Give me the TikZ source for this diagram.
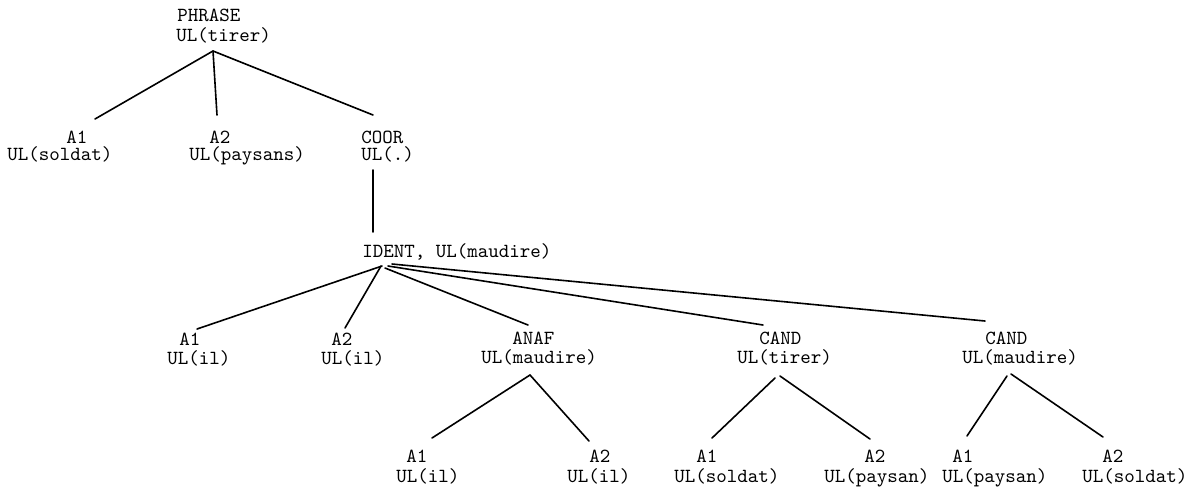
\documentclass[tikz,border=0pt]{standalone}
\begin{document}
\begin{tikzpicture}[x=0.5pt,y=-0.5pt,
  lbl/.style={anchor=base west,inner sep=0pt,text depth=1.2pt,font=\ttfamily\fontsize{10}{11}\selectfont},
  edge/.style={line width=0.8pt,line cap=round}]
\useasboundingbox (0,0) rectangle (1192,489);
% level 0
\node[lbl] (phrase) at (177,21) {PHRASE};
\node[lbl] (phrase-ul) at (176,41) {UL(tirer)};
% level 1
\node[lbl] (a1) at (66,143) {A1};
\node[lbl] (a1-ul) at (7,160) {UL(soldat)};
\node[lbl] (a2) at (209,143) {A2};
\node[lbl] (a2-ul) at (189,160) {UL(paysans)};
\node[lbl] (coor) at (361,143) {COOR};
\node[lbl] (coor-ul) at (361,160) {UL(.)};
% level 2
\node[lbl] (ident) at (362,257) {IDENT, UL(maudire)};
% level 3
\node[lbl] (b1) at (179,345) {A1};
\node[lbl] (b1-ul) at (167,364) {UL(il)};
\node[lbl] (b2) at (331,345) {A2};
\node[lbl] (b2-ul) at (321,364) {UL(il)};
\node[lbl] (anaf) at (512,344) {ANAF};
\node[lbl] (anaf-ul) at (481,363) {UL(maudire)};
\node[lbl] (cand1) at (759,344) {CAND};
\node[lbl] (cand1-ul) at (737,363) {UL(tirer)};
\node[lbl] (cand2) at (985,344) {CAND};
\node[lbl] (cand2-ul) at (962,363) {UL(maudire)};
% level 4
\node[lbl] (c1) at (406,462) {A1};
\node[lbl] (c1-ul) at (396,482) {UL(il)};
\node[lbl] (c2) at (589,462) {A2};
\node[lbl] (c2-ul) at (567,482) {UL(il)};
\node[lbl] (c3) at (696,462) {A1};
\node[lbl] (c3-ul) at (674,482) {UL(soldat)};
\node[lbl] (c4) at (864,462) {A2};
\node[lbl] (c4-ul) at (824,482) {UL(paysan)};
\node[lbl] (c5) at (952,462) {A1};
\node[lbl] (c5-ul) at (942,482) {UL(paysan)};
\node[lbl] (c6) at (1102,462) {A2};
\node[lbl] (c6-ul) at (1082,482) {UL(soldat)};
% connector ends
\coordinate (phrase-b) at (213,51);
\coordinate (a1-t) at (95,119);
\coordinate (a2-t) at (217,115);
\coordinate (coor-t) at (373,115);
\coordinate (coor-b) at (373,170);
\coordinate (ident-t) at (373,232);
\coordinate (ident-b1) at (382,266);
\coordinate (ident-b2) at (381,266);
\coordinate (ident-b3) at (385,268);
\coordinate (ident-b4) at (388,266);
\coordinate (ident-b5) at (392,264);
\coordinate (b1-t) at (197,329);
\coordinate (b2-t) at (345,328);
\coordinate (anaf-t) at (528,325);
\coordinate (cand1-t) at (763,325);
\coordinate (cand2-t) at (985,321);
\coordinate (anaf-b) at (530,375);
\coordinate (c1-t) at (432,438);
\coordinate (c2-t) at (589,441);
\coordinate (cand1-bl) at (775,378);
\coordinate (cand1-br) at (780,376);
\coordinate (c3-t) at (712,438);
\coordinate (c4-t) at (870,439);
\coordinate (cand2-bl) at (1007,376);
\coordinate (cand2-br) at (1011,374);
\coordinate (c5-t) at (967,436);
\coordinate (c6-t) at (1103,437);
% connectors
\draw[edge] (phrase-b) -- (a1-t);
\draw[edge] (phrase-b) -- (a2-t);
\draw[edge] (phrase-b) -- (coor-t);
\draw[edge] (coor-b) -- (ident-t);
\draw[edge] (ident-b1) -- (b1-t);
\draw[edge] (ident-b2) -- (b2-t);
\draw[edge] (ident-b3) -- (anaf-t);
\draw[edge] (ident-b4) -- (cand1-t);
\draw[edge] (ident-b5) -- (cand2-t);
\draw[edge] (anaf-b) -- (c1-t);
\draw[edge] (anaf-b) -- (c2-t);
\draw[edge] (cand1-bl) -- (c3-t);
\draw[edge] (cand1-br) -- (c4-t);
\draw[edge] (cand2-bl) -- (c5-t);
\draw[edge] (cand2-br) -- (c6-t);
\end{tikzpicture}
\end{document}
